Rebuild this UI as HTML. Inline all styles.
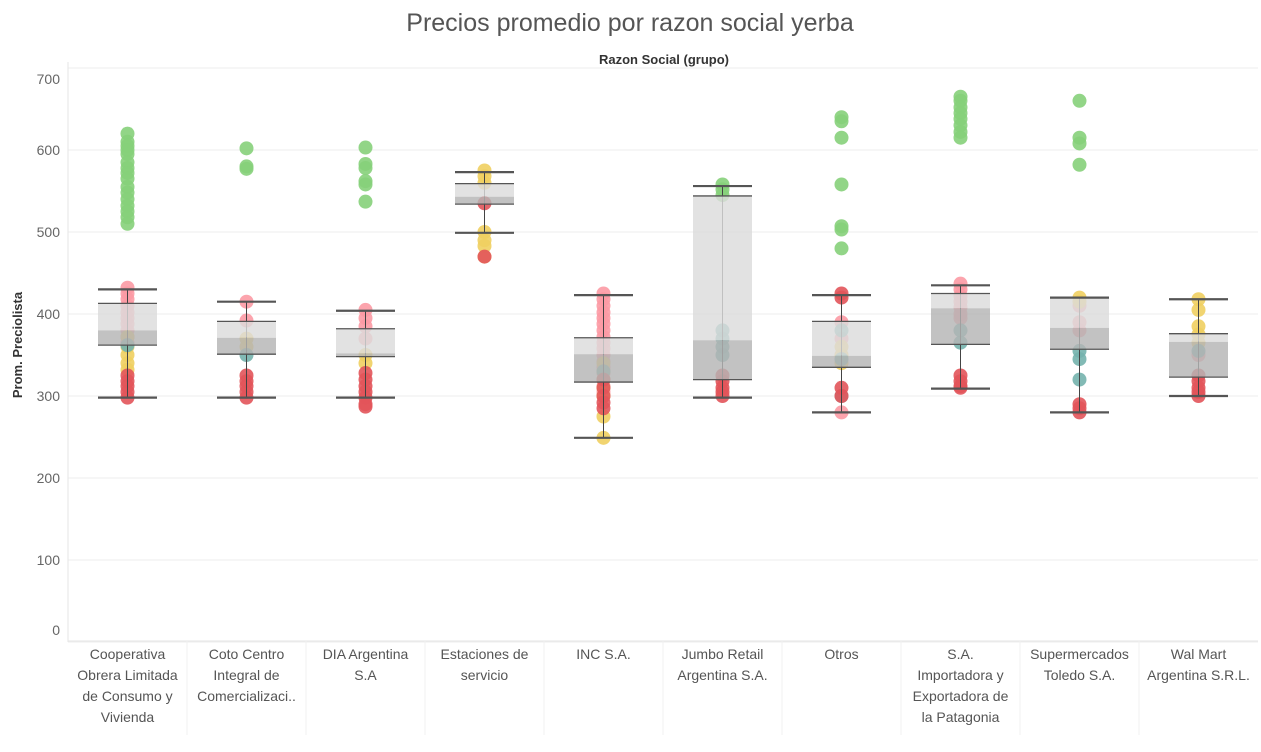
<!DOCTYPE html>
<html><head><meta charset="utf-8"><style>
body{margin:0;background:#fff;font-family:"Liberation Sans",sans-serif;}
svg text{font-family:"Liberation Sans",sans-serif;}
</style></head><body>
<svg id="chart" width="1261" height="747" xmlns="http://www.w3.org/2000/svg">
<text x="630" y="31" text-anchor="middle" font-size="25" fill="#555" font-weight="300">Precios promedio por razon social yerba</text>
<text x="664" y="64" text-anchor="middle" font-size="13" font-weight="bold" fill="#333">Razon Social (grupo)</text>
<text transform="translate(22,345) rotate(-90)" text-anchor="middle" font-size="13" font-weight="bold" fill="#333">Prom. Preciolista</text>
<g id="grid"></g><g id="dots"></g><g id="boxes"></g><g id="labels"></g>
</svg>
<script>
const categories=["Cooperativa|Obrera Limitada|de Consumo y|Vivienda","Coto Centro|Integral de|Comercializaci..","DIA Argentina|S.A","Estaciones de|servicio","INC S.A.","Jumbo Retail|Argentina S.A.","Otros","S.A.|Importadora y|Exportadora de|la Patagonia","Supermercados|Toledo S.A.","Wal Mart|Argentina S.R.L."];
const yTicks=[0,100,200,300,400,500,600,700];
const whiskerLow=[298,298,298,499,249,298,280,309,280,300];
const q1=[362,351,348,534,317,320,335,363,357,323];
const median=[380,371,352,543,351,368,349,407,383,366];
const q3=[413,391,382,559,371,544,391,425,420,376];
const whiskerHigh=[430,415,404,573,423,556,423,435,420,418];
const greenVals=[[620,610,605,600,595,585,578,572,565,555,548,540,532,525,518,510],[602,580,577],[603,583,578,562,558,537],[],[],[558,552,545],[640,635,615,558,507,503,480],[665,660,652,645,638,630,622,615],[660,615,608,582],[]];
const pinkVals=[[432,425,418,410,402,395,388,380,372,365],[415,392],[405,395,385,370],[],[425,418,410,402,395,388,380,372,365,358,350,342,335,328,320,312,305,300],[],[390,370,280],[437,430,422,415,408,400,395],[410,390,380],[350]];
const yellowVals=[[372,360,350,340,332],[370,360],[350,340],[575,568,560,500,490,483,470],[340,330,320,310,300,275,249],[],[360,350,340],[],[420,415],[418,405,385,375,365]];
const tealVals=[[362],[350],[],[],[330],[380,370,360,350],[380,345,300],[380,365],[355,345,320],[355]];
const redVals=[[325,318,312,305,298],[325,318,312,305,298],[328,320,312,305,298,290,287],[535,470],[320,310,300,292,285],[325,318,310,305,300],[425,420,310,300],[325,318,312,310],[290,285,280],[325,318,310,305,300]];
const NS="http://www.w3.org/2000/svg";
const x0=68,x1=1258,colW=(x1-x0)/categories.length;
const yS=v=>642-0.82*v;
const xS=i=>x0+colW*(i+0.5);
function mk(tag,attrs,parent){const e=document.createElementNS(NS,tag);for(const k in attrs)e.setAttribute(k,attrs[k]);parent.appendChild(e);return e;}
const grid=document.getElementById('grid'),dots=document.getElementById('dots'),boxes=document.getElementById('boxes'),labels=document.getElementById('labels');
yTicks.forEach(t=>{
 const l=mk('line',{x1:x0,x2:x1,y1:yS(t),y2:yS(t),stroke:'#eee','stroke-width':1},grid);
 
 
 const cy=Math.min(630,Math.max(79,yS(t)));
 const tx=mk('text',{x:60,y:cy+5,'text-anchor':'end','font-size':14,fill:'#666'},labels);
 tx.textContent=t;
 
 
});
mk('line',{x1:x0,x2:x0,y1:62,y2:642,stroke:'#e6e6e6'},grid);
mk('line',{x1:x0,x2:x1,y1:641,y2:641,stroke:'#e6e6e6'},grid);
for(let i=1;i<categories.length;i++)mk('line',{x1:x0+colW*i,x2:x0+colW*i,y1:641,y2:735,stroke:'#f0f0f0'},grid);
const series=[[greenVals,'#86d07a'],[pinkVals,'#fc9aa4'],[yellowVals,'#f0cf60'],[tealVals,'#74b3ad'],[redVals,'#e2545a']];
series.forEach(([arr,col])=>arr.forEach((vals,i)=>vals.forEach(v=>{
 const c=mk('circle',{cx:xS(i),cy:yS(v),r:7,fill:col,'fill-opacity':0.9},dots);
 
 
})));
categories.forEach((cat,i)=>{
 const cx=xS(i),w=59,L=cx-w/2,R=cx+w/2;
 mk('line',{x1:cx,x2:cx,y1:yS(whiskerHigh[i]),y2:yS(whiskerLow[i]),stroke:'#444','stroke-width':1},boxes);
 const u=mk('rect',{x:L,y:yS(q3[i]),width:w,height:yS(median[i])-yS(q3[i]),fill:'#dcdcdc','fill-opacity':0.82},boxes);
 
 
 const d=mk('rect',{x:L,y:yS(median[i]),width:w,height:yS(q1[i])-yS(median[i]),fill:'#b4b4b4','fill-opacity':0.82},boxes);
 
 
 [q3[i],q1[i]].forEach(v=>mk('line',{x1:L,x2:R,y1:yS(v),y2:yS(v),stroke:'#555','stroke-width':1.3},boxes));
 [whiskerHigh[i],whiskerLow[i]].forEach(v=>{
  const wl=mk('line',{x1:L,x2:R,y1:yS(v),y2:yS(v),stroke:'#555','stroke-width':2.2},boxes);
  
  
 });
 cat.split('|').forEach((ln,j)=>{
  const t=mk('text',{x:cx,y:659+j*21,'text-anchor':'middle','font-size':14,fill:'#555'},labels);
  t.textContent=ln;
  
  
 });
});
</script>
</body></html>
